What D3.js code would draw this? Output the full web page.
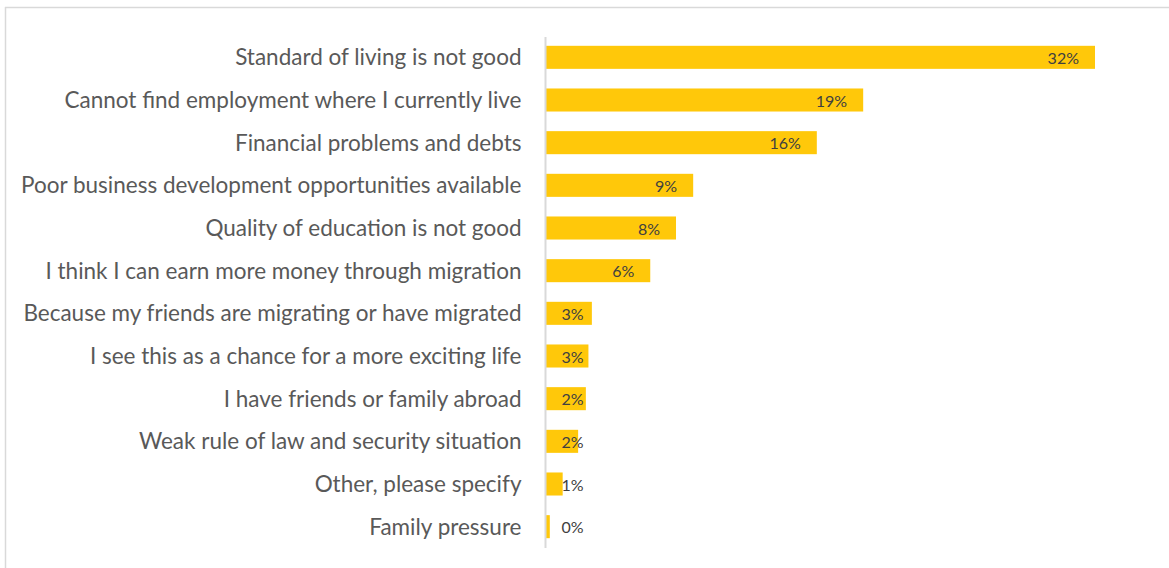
<!DOCTYPE html>
<html>
<head>
<meta charset="utf-8">
<script src="https://cdn.jsdelivr.net/npm/d3@7"></script>
<style>
  html, body { margin: 0; padding: 0; background: #fff; }
  svg { display: block; }
</style>
</head>
<body>
<svg id="chart" width="1169" height="568"></svg>
<script>
const categories = [
  "Standard of living is not good",
  "Cannot find employment where I currently live",
  "Financial problems and debts",
  "Poor business development opportunities available",
  "Quality of education is not good",
  "I think I can earn more money through migration",
  "Because my friends are migrating or have migrated",
  "I see this as a chance for a more exciting life",
  "I have friends or family abroad",
  "Weak rule of law and security situation",
  "Other, please specify",
  "Family pressure"
];
const values = [32.0, 18.5, 15.8, 8.6, 7.6, 6.1, 2.7, 2.5, 2.35, 1.9, 1.0, 0.25];
const valueLabels = ["32%", "19%", "16%", "9%", "8%", "6%", "3%", "3%", "2%", "2%", "1%", "0%"];

const svg = d3.select("#chart");
const W = 1169, H = 568;

// frame
svg.append("line").attr("x1", 5).attr("x2", W).attr("y1", 7.5).attr("y2", 7.5)
  .attr("stroke", "#d9d9d9").attr("stroke-width", 1.5);
svg.append("line").attr("x1", 5.5).attr("x2", 5.5).attr("y1", 7).attr("y2", H)
  .attr("stroke", "#d9d9d9").attr("stroke-width", 1.5);

const x0 = 545.5;
const x = d3.scaleLinear().domain([0, 32]).range([x0, 1095]);
const y = d3.scaleBand().domain(categories).range([36, 548]).paddingInner(0.46).paddingOuter(0.23);

const g = svg.append("g");

g.selectAll("rect.bar").data(categories).join("rect")
  .attr("class", "bar")
  .attr("x", x0 + 0.5)
  .attr("y", d => y(d))
  .attr("width", (d, i) => Math.max(0, x(values[i]) - x0 - 0.5))
  .attr("height", y.bandwidth())
  .attr("fill", "#FFC80A");

// axis line
const axis = d3.axisLeft(y).tickSize(0).tickPadding(24);
const ax = svg.append("g").attr("transform", `translate(${x0},0)`).call(axis);
ax.select(".domain").attr("stroke", "#d9d9d9").attr("stroke-width", 2)
  .attr("d", `M0,37V548`);
ax.selectAll(".tick text")
  .attr("font-family", "Lato, 'Open Sans', sans-serif")
  .attr("font-size", 22.5)
  .attr("dy", "0.36em")
  .attr("fill", "#595959");

// value labels
g.selectAll("text.val").data(categories).join("text")
  .attr("class", "val")
  .attr("x", (d, i) => Math.max(x(values[i]) - 16, x0 + 38))
  .attr("y", d => y(d) + y.bandwidth() / 2)
  .attr("dy", "0.42em")
  .attr("text-anchor", "end")
  .attr("font-family", "Lato, 'Open Sans', sans-serif")
  .attr("font-size", 16)
  .attr("fill", "#404040")
  .text((d, i) => valueLabels[i]);
</script>
</body>
</html>
